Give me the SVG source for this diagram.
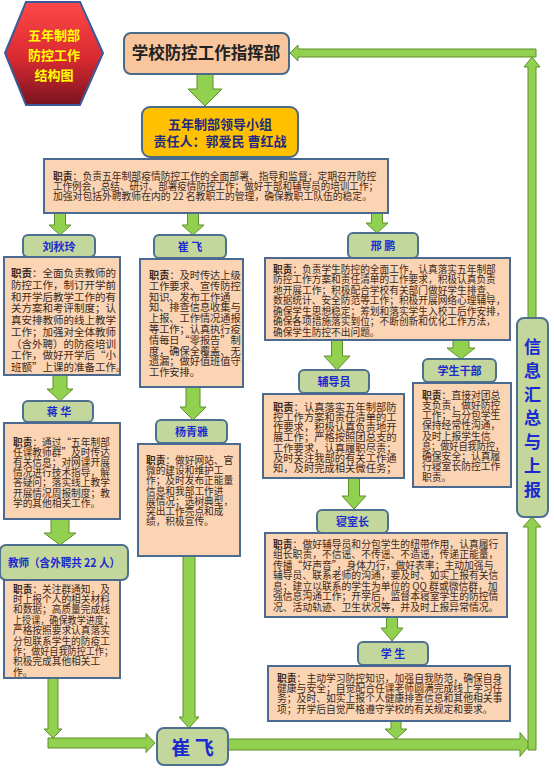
<svg xmlns="http://www.w3.org/2000/svg" width="554" height="769" viewBox="0 0 554 769">
<defs>
<linearGradient id="hexg" x1="0" y1="0" x2="0" y2="1">
<stop offset="0" stop-color="#ff4848"/>
<stop offset="0.55" stop-color="#d82a30"/>
<stop offset="1" stop-color="#7a1420"/>
</linearGradient>
<style>
.arr{fill:#92d050;stroke:#5f8f2a;stroke-width:1}
.lab{fill:#c3d69b;stroke:#4f6f8f;stroke-width:2}
.duty{fill:#fbd4b4;stroke:#4a6a90;stroke-width:2}
.lt{font-family:"Noto Sans CJK SC","Noto Sans",sans-serif;font-weight:bold;fill:#1a2ad0;text-anchor:middle}
.dt{font-family:"Noto Sans CJK SC","Noto Sans",sans-serif;fill:#3a2a20}
.b{font-weight:bold}
</style>
</defs>
<rect width="554" height="769" fill="#ffffff"/>

<g id="connectors">
<polygon class="arr" points="197,74 213,74 213,89 222,89 205,106 188,89 197,89"/>
<polygon class="arr" points="54.5,213 65.5,213 65.5,225 71,225 60,235 49,225 54.5,225"/>
<polygon class="arr" points="187.5,213 198.5,213 198.5,225 204,225 193,235 182,225 187.5,225"/>
<polygon class="arr" points="371.5,213 382.5,213 382.5,223 388,223 377,233 366,223 371.5,223"/>
<polygon class="arr" points="53,375 67,375 67,389 73,389 60,401 47,389 53,389"/>
<polygon class="arr" points="51,519 69,519 69,533 76,533 60,545 44,533 51,533"/>
<polygon class="arr" points="48,678 58,678 58,729 62,729 53,738 44,729 48,729"/>
<polygon class="arr" points="48,738 146,738 146,733.5 155,743 146,752.5 146,748 48,748"/>
<polygon class="arr" points="186,387 200,387 200,407 206,407 193,420 180,407 186,407"/>
<polygon class="arr" points="183,556 195,556 195,717 199,717 189,728 179,717 183,717"/>
<polygon class="arr" points="331.5,340 342.5,340 342.5,356 350,356 337,370 324,356 331.5,356"/>
<polygon class="arr" points="453,340 469,340 469,348 475,348 461,359 447,348 453,348"/>
<polygon class="arr" points="348.5,478 359.5,478 359.5,496 366,496 354,509 342,496 348.5,496"/>
<polygon class="arr" points="386.5,617 397.5,617 397.5,628 403,628 392,641 381,628 386.5,628"/>
<polygon class="arr" points="391,721 401,721 401,729 407,729 396,739 385,729 391,729"/>
<polygon class="arr" points="228,739 520,739 520,732.5 530,744.5 520,756.5 520,750 228,750"/>
<polygon class="arr" points="528,750 536,750 536,527 541,527 532,517 523,527 528,527"/>
<polygon class="arr" points="528,318 536,318 536,67 540,67 532,57 524,67 528,67"/>
<polygon class="arr" points="536,49 298,49 298,45 290,53 298,61 298,57 536,57"/>
</g>

<g id="title-hex">
<polygon points="26,2 80,2 103,53 80,105 26,105 5,53" fill="url(#hexg)" stroke="#3a5a9a" stroke-width="2"/>
<g font-family="'Noto Sans CJK SC',sans-serif" font-weight="bold" font-size="13" fill="#ffff00" text-anchor="middle">
<text x="54" y="40">五年制部</text>
<text x="54" y="60">防控工作</text>
<text x="54" y="80">结构图</text>
</g>
</g>

<g id="hq">
<rect x="124" y="33" width="165" height="41" rx="7" fill="#f9c59c" stroke="#4a6a8a" stroke-width="2"/>
<text x="206" y="59" font-family="'Noto Sans CJK SC',sans-serif" font-weight="bold" font-size="16.5" fill="#222" text-anchor="middle">学校防控工作指挥部</text>
</g>

<g id="leader">
<rect x="142" y="107" width="156" height="50" rx="8" fill="#ffc000" stroke="#4a6a8a" stroke-width="2"/>
<g font-family="'Noto Sans CJK SC',sans-serif" font-weight="bold" font-size="13" fill="#1f2a80" text-anchor="middle">
<text x="220" y="129">五年制部领导小组</text>
<text x="220" y="146">责任人：郭爱民 曹红战</text>
</g>
</g>

<g id="main-duty">
<rect class="duty" x="44" y="159" width="344" height="54"/>
<g class="dt" font-size="9.8">
<text x="53" y="179.6"><tspan class="b">职责</tspan>：负责五年制部疫情防控工作的全面部署、指导和监督；定期召开防控</text>
<text x="53" y="189.8" textLength="325" lengthAdjust="spacingAndGlyphs">工作例会，总结、研讨、部署疫情防控工作；做好干部和辅导员的培训工作；</text>
<text x="53" y="200.3">加强对包括外聘教师在内的 22 名教职工的管理，确保教职工队伍的稳定。</text>
</g>
</g>

<g id="liuqiuling">
<rect class="lab" x="23" y="235" width="72" height="22" rx="5"/>
<text class="lt" x="59" y="250.5" font-size="11">刘秋玲</text>
<rect class="duty" x="4" y="257" width="116" height="118"/>
<g class="dt" font-size="10.5">
<text x="11" y="277"><tspan class="b">职责</tspan>：全面负责教师的</text>
<text x="11" y="288.7">防控工作，制订开学前</text>
<text x="11" y="300.5">和开学后教学工作的有</text>
<text x="11" y="312.2">关方案和考评制度；认</text>
<text x="11" y="324">真安排教师的线上教学</text>
<text x="11" y="335.7">工作；加强对全体教师</text>
<text x="11" y="347.5">（含外聘）的防疫培训</text>
<text x="11" y="359.2">工作，做好开学后“小</text>
<text x="11" y="371">班额”上课的准备工作。</text>
</g>
</g>

<g id="jianghua">
<rect class="lab" x="23" y="401" width="70" height="21" rx="5"/>
<text class="lt" x="59" y="415.5" font-size="11">蒋 华</text>
<rect class="duty" x="4" y="423" width="116" height="96"/>
<g class="dt" font-size="9.7">
<text x="13" y="445.6"><tspan class="b">职责</tspan>：通过“五年制部</text>
<text x="13" y="455.8">任课教师群”及时传达</text>
<text x="13" y="466">有关信息；对网课开展</text>
<text x="13" y="476.2">情况进行技术指导，解</text>
<text x="13" y="486.4">答疑问；落实线上教学</text>
<text x="13" y="496.6">开展情况周报制度；教</text>
<text x="13" y="506.8">学的其他相关工作。</text>
</g>
</g>

<g id="teachers">
<rect class="lab" x="0" y="545" width="128" height="35" rx="6"/>
<text class="lt" x="64" y="567" font-size="11.5" textLength="112" lengthAdjust="spacingAndGlyphs">教师（含外聘共 22 人）</text>
<rect class="duty" x="4" y="580" width="116" height="98"/>
<g class="dt" font-size="9.7">
<text x="13" y="592.6"><tspan class="b">职责</tspan>：关注群通知，及</text>
<text x="13" y="603">时上报个人的相关材料</text>
<text x="13" y="613.4">和数据；高质量完成线</text>
<text x="13" y="623.8" textLength="100" lengthAdjust="spacingAndGlyphs">上授课，确保教学进度；</text>
<text x="13" y="634.2">严格按照要求认真落实</text>
<text x="13" y="644.6">分包联系学生的防疫工</text>
<text x="13" y="655" textLength="100" lengthAdjust="spacingAndGlyphs">作；做好自我防控工作；</text>
<text x="13" y="665.4">积极完成其他相关工</text>
<text x="13" y="675.8">作。</text>
</g>
</g>

<g id="cuifei-mid">
<rect class="lab" x="154" y="235" width="72" height="23" rx="5"/>
<text class="lt" x="190" y="250.5" font-size="11">崔 飞</text>
<rect class="duty" x="140" y="259" width="103" height="128"/>
<g class="dt" font-size="10.2">
<text x="149" y="279"><tspan class="b">职责</tspan>：及时传达上级</text>
<text x="149" y="289.8">工作要求、宣传防控</text>
<text x="149" y="300.6">知识、发布工作通</text>
<text x="149" y="311.3">知、排查信息收集与</text>
<text x="149" y="322.1">上报、工作情况通报</text>
<text x="149" y="332.9">等工作；认真执行疫</text>
<text x="149" y="343.7">情每日“零报告”制</text>
<text x="149" y="354.5">度，确保全覆盖、无</text>
<text x="149" y="365.2">遗漏；做好值班值守</text>
<text x="149" y="376">工作安排。</text>
</g>
</g>

<g id="yangqingya">
<rect class="lab" x="156" y="420" width="71" height="23" rx="5"/>
<text class="lt" x="191.5" y="435.5" font-size="11">杨青雅</text>
<rect class="duty" x="138" y="444" width="102" height="112"/>
<g class="dt" font-size="9.7">
<text x="146" y="463.6"><tspan class="b">职责</tspan>：做好网站、官</text>
<text x="146" y="473.9">微的建设和维护工</text>
<text x="146" y="484.2">作；及时发布正能量</text>
<text x="146" y="494.5">信息和我部工作进</text>
<text x="146" y="504.8">展情况；选树典型，</text>
<text x="146" y="515.1">突出工作亮点和成</text>
<text x="146" y="525.4">绩，积极宣传。</text>
</g>
</g>

<g id="xingpeng">
<rect class="lab" x="348" y="233" width="70" height="25" rx="5"/>
<text class="lt" x="383" y="249.5" font-size="11">邢 鹏</text>
<rect class="duty" x="265" y="258" width="245" height="82"/>
<g class="dt" font-size="9.7">
<text x="273" y="272.6"><tspan class="b">职责</tspan>：负责学生防控的全面工作，认真落实五年制部</text>
<text x="273" y="283.1">防控工作方案和责任清单的工作要求，积极认真负责</text>
<text x="273" y="293.6">地开展工作；积极配合学校有关部门做好学生排查、</text>
<text x="273" y="304.1">数据统计、安全防范等工作；积极开展网络心理辅导，</text>
<text x="273" y="314.6">确保学生思想稳定；筹划和落实学生入校工后作安排，</text>
<text x="273" y="325.1">确保各项措施落实到位；不断创新和优化工作方法，</text>
<text x="273" y="335.6">确保学生防控不出问题。</text>
</g>
</g>

<g id="fudaoyuan">
<rect class="lab" x="299" y="370" width="70" height="23" rx="5"/>
<text class="lt" x="334" y="385.5" font-size="11">辅导员</text>
<rect class="duty" x="263" y="394" width="141" height="84"/>
<g class="dt" font-size="10.3">
<text x="273" y="410.8"><tspan class="b">职责</tspan>：认真落实五年制部防</text>
<text x="273" y="421">控工作方案和责任清单的工</text>
<text x="273" y="431.2">作要求，积极认真负责地开</text>
<text x="273" y="441.4">展工作；严格按照团总支的</text>
<text x="273" y="451.6">工作要求，认真履职尽责；</text>
<text x="273" y="461.8">及时关注我部的有关工作通</text>
<text x="273" y="472">知，及时完成相关微任务；</text>
</g>
</g>

<g id="xueshengganbu">
<rect class="lab" x="423" y="359" width="73" height="23" rx="5"/>
<text class="lt" x="459.5" y="374.5" font-size="11">学生干部</text>
<rect class="duty" x="413" y="383" width="98" height="104"/>
<g class="dt" font-size="9.8">
<text x="422" y="398.6"><tspan class="b">职责</tspan>：直接对团总</text>
<text x="422" y="408.9">支负责，做好防控</text>
<text x="422" y="419.1">工作；与分包学生</text>
<text x="422" y="429.4">保持经常性沟通，</text>
<text x="422" y="439.6">及时上报学生信</text>
<text x="422" y="449.9" textLength="82" lengthAdjust="spacingAndGlyphs">息；做好自我防控，</text>
<text x="422" y="460.1">确保安全；认真履</text>
<text x="422" y="470.4">行寝室长防控工作</text>
<text x="422" y="480.6">职责。</text>
</g>
</g>

<g id="qinshizhang">
<rect class="lab" x="317" y="510" width="71" height="23" rx="5"/>
<text class="lt" x="352.5" y="525.5" font-size="11">寝室长</text>
<rect class="duty" x="265" y="533" width="242" height="84"/>
<g class="dt" font-size="9.8">
<text x="273" y="547.6"><tspan class="b">职责</tspan>：做好辅导员和分包学生的纽带作用，认真履行</text>
<text x="273" y="558.1">组长职责，不信谣、不传谣、不造谣，传递正能量，</text>
<text x="273" y="568.6">传播“好声音”，身体力行，做好表率；主动加强与</text>
<text x="273" y="579.1">辅导员、联系老师的沟通，要及时、如实上报有关信</text>
<text x="273" y="589.6">息；建立以联系的学生为单位的 QQ 群或微信群，加</text>
<text x="273" y="600.1">强信息沟通工作；开学后，监督本寝室学生的防控情</text>
<text x="273" y="610.6">况、活动轨迹、卫生状况等，并及时上报异常情况。</text>
</g>
</g>

<g id="xuesheng">
<rect class="lab" x="358" y="642" width="70" height="23" rx="5"/>
<text class="lt" x="393" y="657.5" font-size="11">学 生</text>
<rect class="duty" x="268" y="666" width="242" height="55"/>
<g class="dt" font-size="9.8">
<text x="277" y="681.6"><tspan class="b">职责</tspan>：主动学习防控知识，加强自我防范，确保自身</text>
<text x="277" y="691.9">健康与安全；自觉配合任课老师圆满完成线上学习任</text>
<text x="277" y="702.2">务；及时、如实上报个人健康排查信息和其他相关事</text>
<text x="277" y="712.5">项；开学后自觉严格遵守学校的有关规定和要求。</text>
</g>
</g>

<g id="cuifei-bottom">
<rect class="lab" x="157" y="728" width="71" height="37" rx="7"/>
<text class="lt" x="192.5" y="754.5" font-size="19">崔 飞</text>
</g>

<g id="info-report">
<rect class="lab" x="517" y="318" width="31" height="199" rx="7"/>
<g class="lt" font-size="17">
<text x="532.5" y="353">信</text>
<text x="532.5" y="377">息</text>
<text x="532.5" y="401">汇</text>
<text x="532.5" y="424">总</text>
<text x="532.5" y="448">与</text>
<text x="532.5" y="472">上</text>
<text x="532.5" y="496">报</text>
</g>
</g>
</svg>
